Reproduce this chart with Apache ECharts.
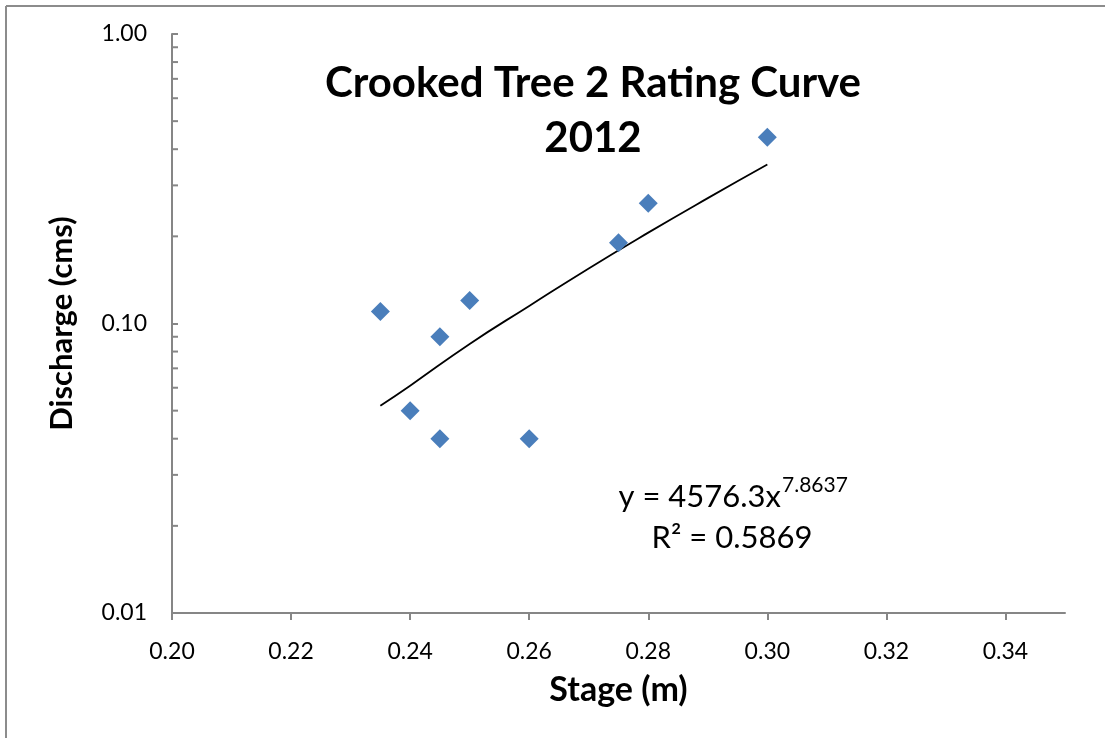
<!DOCTYPE html>
<html>
<head>
<meta charset="utf-8">
<script src="https://cdn.jsdelivr.net/npm/echarts@6/dist/echarts.min.js"></script>
<style>
  html, body { margin: 0; padding: 0; background: #fff; }
  #chart { width: 1105px; height: 738px; }
</style>
</head>
<body>
<div id="chart"></div>
<script>
// measured points (stage in m, discharge in cms)
var stageVals = [0.235, 0.24, 0.245, 0.245, 0.25, 0.26, 0.275, 0.28, 0.30];
var dischargeVals = [0.11, 0.05, 0.09, 0.04, 0.12, 0.04, 0.19, 0.26, 0.44];

// power trendline
var trendX = [0.235, 0.24, 0.25, 0.26, 0.27, 0.28, 0.29, 0.30];
var trendY = [0.052, 0.061, 0.085, 0.115, 0.155, 0.206, 0.271, 0.354];

// axis ticks
var xTicks = [0.20, 0.22, 0.24, 0.26, 0.28, 0.30, 0.32, 0.34];
var yMinorTicks = [0.02, 0.03, 0.04, 0.05, 0.06, 0.07, 0.08, 0.09,
                   0.2, 0.3, 0.4, 0.5, 0.6, 0.7, 0.8, 0.9];

var FONT = 'Lato';
var AXIS_COLOR = '#868686';

var chart = echarts.init(document.getElementById('chart'));

var points = [];
for (var i = 0; i < stageVals.length; i++) {
    points.push([stageVals[i], dischargeVals[i]]);
}
var trend = [];
for (var j = 0; j < trendX.length; j++) {
    trend.push([trendX[j], trendY[j]]);
}
var minorData = yMinorTicks.map(function (v) { return [xTicks[0], v]; });

var option = {
    animation: false,
    backgroundColor: '#fff',
    title: {
        text: 'Crooked Tree 2 Rating Curve\n2012',
        left: 588,
        top: 51,
        textAlign: 'center',
        textStyle: {
            fontFamily: FONT,
            fontSize: 42,
            fontWeight: 'bold',
            color: '#000',
            lineHeight: 55
        }
    },
    grid: {
        left: 172,
        right: 40,
        top: 34,
        bottom: 125,
        containLabel: false
    },
    xAxis: {
        type: 'value',
        min: 0.20,
        max: 0.35,
        interval: 0.02,
        name: 'Stage (m)',
        nameLocation: 'middle',
        nameGap: 60,
        nameTextStyle: { fontFamily: FONT, fontSize: 34, fontWeight: 'bold', color: '#000' },
        splitLine: { show: false },
        axisLine: { lineStyle: { color: AXIS_COLOR, width: 2 } },
        axisTick: {
            inside: false,
            length: 7,
            customValues: xTicks,
            lineStyle: { color: AXIS_COLOR, width: 2 }
        },
        axisLabel: {
            customValues: xTicks,
            margin: 27,
            fontFamily: FONT,
            fontSize: 23,
            color: '#000',
            formatter: function (v) { return v.toFixed(2); }
        }
    },
    yAxis: {
        type: 'log',
        logBase: 10,
        min: 0.01,
        max: 1,
        name: 'Discharge (cms)',
        nameLocation: 'middle',
        nameRotate: 90,
        nameGap: 95,
        nameTextStyle: { fontFamily: FONT, fontSize: 31, fontWeight: 'bold', color: '#000' },
        splitLine: { show: false },
        axisLine: { show: true, lineStyle: { color: AXIS_COLOR, width: 2 } },
        axisTick: {
            inside: true,
            length: 6,
            lineStyle: { color: AXIS_COLOR, width: 2 }
        },
        axisLabel: {
            margin: 25,
            fontFamily: FONT,
            fontSize: 23,
            color: '#000',
            formatter: function (v) { return Number(v).toFixed(2); }
        }
    },
    series: [
        {
            name: 'minor ticks',
            type: 'custom',
            silent: true,
            clip: false,
            z: 1,
            data: minorData,
            renderItem: function (params, api) {
                var p = api.coord([api.value(0), api.value(1)]);
                return {
                    type: 'line',
                    shape: { x1: p[0], y1: p[1], x2: p[0] + 6, y2: p[1] },
                    style: { stroke: AXIS_COLOR, lineWidth: 2 }
                };
            }
        },
        {
            name: 'Trendline',
            type: 'line',
            data: trend,
            showSymbol: false,
            symbol: 'none',
            smooth: true,
            lineStyle: { color: '#000', width: 1.8 },
            z: 2
        },
        {
            name: 'Discharge',
            type: 'scatter',
            data: points,
            symbol: 'diamond',
            symbolSize: 19,
            itemStyle: { color: '#4A7EBB', opacity: 1 },
            z: 3
        }
    ],
    graphic: [
        {
            type: 'line',
            shape: { x1: 6, y1: 6, x2: 1105, y2: 6 },
            style: { stroke: '#8c8c8c', lineWidth: 2 }
        },
        {
            type: 'line',
            shape: { x1: 6, y1: 6, x2: 6, y2: 738 },
            style: { stroke: '#8c8c8c', lineWidth: 2 }
        },
        {
            type: 'text',
            x: 781,
            y: 497,
            style: {
                text: 'y = 4576.3x',
                fontFamily: FONT,
                fontSize: 31,
                fill: '#000',
                align: 'right',
                verticalAlign: 'middle'
            }
        },
        {
            type: 'text',
            x: 782,
            y: 485,
            style: {
                text: '7.8637',
                fontFamily: FONT,
                fontSize: 21,
                fill: '#000',
                align: 'left',
                verticalAlign: 'middle'
            }
        },
        {
            type: 'text',
            x: 732,
            y: 538,
            style: {
                text: 'R² = 0.5869',
                fontFamily: FONT,
                fontSize: 31,
                fill: '#000',
                align: 'center',
                verticalAlign: 'middle'
            }
        }
    ]
};

chart.setOption(option);
</script>
</body>
</html>
